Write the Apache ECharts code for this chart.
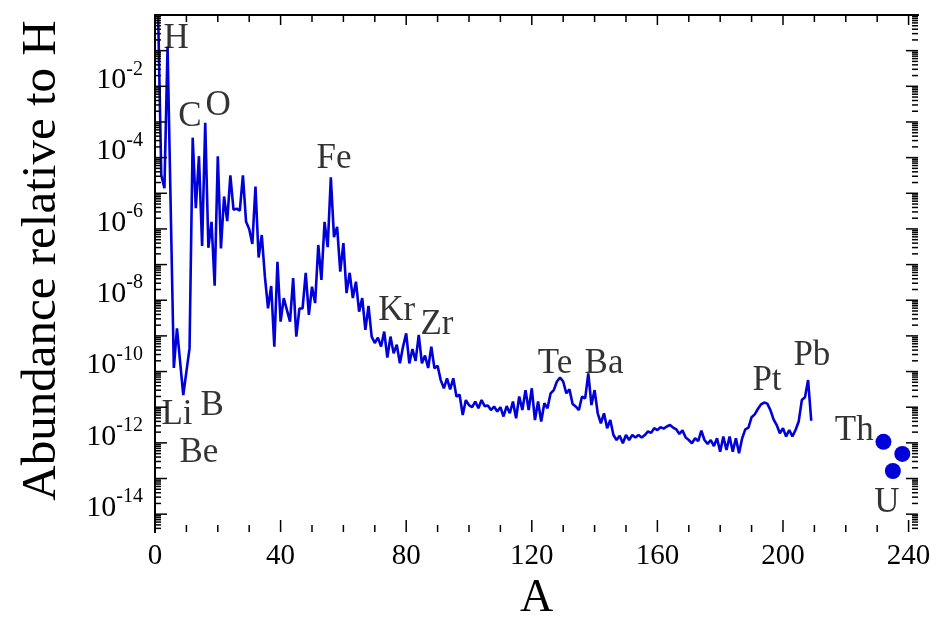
<!DOCTYPE html>
<html><head><meta charset="utf-8">
<script src="https://cdn.jsdelivr.net/npm/echarts@6/dist/echarts.min.js"></script>
<style>html,body{margin:0;padding:0;background:#fff}#c{width:950px;height:617px}</style>
</head><body><div id="c"></div>
<script>
// Mass numbers A (no stable A=5, A=8)
const massNumbers = [1,2,3,4,6,7,9,10,11,12,13,14,15,16,17,18,19,20,21,22,23,24,25,26,27,28,29,30,
31,32,33,34,35,36,37,38,39,40,41,42,43,44,45,46,47,48,49,50,51,52,53,54,55,56,57,58,59,60,
61,62,63,64,65,66,67,68,69,70,71,72,73,74,75,76,77,78,79,80,81,82,83,84,85,86,87,88,89,90,
91,92,93,94,95,96,97,98,99,100,101,102,103,104,105,106,107,108,109,110,111,112,113,114,115,116,117,118,119,120,
121,122,123,124,125,126,127,128,129,130,131,132,133,134,135,136,137,138,139,140,141,142,143,144,145,146,147,148,149,150,
151,152,153,154,155,156,157,158,159,160,161,162,163,164,165,166,167,168,169,170,171,172,173,174,175,176,177,178,179,180,
181,182,183,184,185,186,187,188,189,190,191,192,193,194,195,196,197,198,199,200,201,202,203,204,205,206,207,208,209];
// log10(abundance relative to H)
const logAbundance = [0,-4.49,-4.86,-0.89,-9.9,-8.79,-10.66,-10.0,-9.35,-3.44,-5.42,-3.96,-6.48,-3.02,-6.53,-5.8,-7.59,-3.96,-6.55,-5.09,
-5.78,-4.5,-5.46,-5.43,-5.49,-4.5,-5.8,-6.0,-6.42,-4.81,-6.8,-6.17,-7.34,-8.23,-7.6,-9.3,-6.92,-8.6,-7.94,-8.27,
-8.6,-7.38,-9.02,-8.23,-8.23,-7.23,-8.41,-7.62,-8.08,-6.45,-7.43,-5.8,-6.51,-4.55,-6.23,-5.94,-7.2,-6.4,-7.8,-7.23,
-7.94,-7.48,-8.32,-7.94,-8.83,-8.16,-9.02,-9.2,-9.05,-9.3,-8.88,-9.61,-9.02,-9.49,-9.25,-9.77,-9.3,-8.93,-9.77,-9.37,
-9.7,-8.97,-9.77,-9.55,-9.9,-9.3,-9.91,-9.84,-10.24,-10.47,-10.19,-10.5,-10.19,-10.7,-10.65,-11.22,-10.8,-10.94,-11.0,-10.84,
-11.03,-10.8,-10.97,-10.95,-11.08,-10.98,-11.12,-11.0,-11.26,-10.97,-11.17,-10.84,-11.31,-10.7,-11.08,-10.52,-11.08,-10.47,-11.36,-10.84,
-11.4,-10.89,-11.03,-10.61,-10.52,-10.28,-10.17,-10.28,-10.61,-10.5,-10.91,-10.98,-11.08,-10.7,-10.75,-10.05,-10.94,-10.52,-11.17,-11.45,
-11.17,-11.59,-11.36,-11.78,-11.92,-11.8,-12.01,-11.78,-11.92,-11.78,-11.85,-11.78,-11.85,-11.78,-11.68,-11.72,-11.59,-11.64,-11.56,-11.6,
-11.54,-11.5,-11.57,-11.62,-11.75,-11.65,-11.85,-11.92,-12.01,-11.87,-11.95,-11.66,-11.92,-12.03,-11.92,-12.09,-11.87,-12.25,-11.82,-12.2,
-11.82,-12.25,-11.87,-12.29,-11.87,-11.62,-11.57,-11.28,-11.2,-11.05,-10.92,-10.87,-10.9,-11.08,-11.34,-11.5,-11.73,-11.59,-11.82,-11.64,
-11.82,-11.64,-11.4,-10.8,-10.72,-10.24,-11.38];
// Th and U isotopes (dots)
const actinideA = [232, 235, 238];
const actinideLog = [-11.97, -12.79, -12.31];
// Element annotations
const elemNames = ['H','C','O','Fe','Kr','Zr','Te','Ba','Pt','Pb','Th','U','Li','B','Be'];
const elemA =     [6.7, 11.1, 20.1, 57.0, 77.0, 89.8, 127.4, 143.0, 194.9, 209.2, 222.7, 233.1, 7.0, 18.2, 14.0];
const elemLog =   [-0.66, -2.86, -2.55, -4.02, -8.3, -8.7, -9.77, -9.77, -10.25, -9.57, -11.66, -13.68, -11.2, -10.95, -12.28];
// Axis ranges / ticks
const xMin = 0, xMax = 243, xStep = 40, xMinorStep = 10;
const yMin = -14.5, yMax = 0;

const FONT = "'Liberation Serif','Times New Roman',serif";
const BLUE = '#0000d8';

const lineData = massNumbers.map((a, i) => [a, logAbundance[i]]);
const dotData = actinideA.map((a, i) => [a, actinideLog[i]]);
const labelData = elemNames.map((n, i) => ({ name: n, value: [elemA[i], elemLog[i]] }));

// tick positions (axis decoration)
const xTicks = [];
for (let a = xMin; a <= 240; a += xMinorStep) xTicks.push([a, a % xStep === 0 ? 1 : 0]);
const yTicks = [];
for (let n = -15; n < 0; n++) {
  for (let k = 1; k <= 9; k++) {
    const v = n + Math.log10(k);
    if (v > yMin && v < yMax) yTicks.push([xMin, v, k === 1 ? 1 : 0]);
  }
}

const chart = echarts.init(document.getElementById('c'), null, { renderer: 'canvas' });
const axisLineStyle = { color: '#000', width: 2 };
const TK = { stroke: '#000', lineWidth: 1.5 };
chart.setOption({
  animation: false,
  backgroundColor: '#fff',
  grid: { left: 155, right: 32, top: 15, bottom: 85, containLabel: false, outerBoundsMode: 'none' },
  xAxis: [{
    type: 'value', min: xMin, max: xMax, interval: xStep, position: 'bottom',
    name: 'A', nameLocation: 'middle', nameGap: 44,
    nameTextStyle: { fontFamily: FONT, fontSize: 46, color: '#000' },
    axisLine: { lineStyle: axisLineStyle },
    axisTick: { show: false }, minorTick: { show: false },
    splitLine: { show: false },
    axisLabel: { fontFamily: FONT, fontSize: 29, color: '#000', margin: 10, showMaxLabel: false }
  }, {
    type: 'value', min: xMin, max: xMax, interval: xStep, position: 'top',
    axisLine: { lineStyle: axisLineStyle },
    axisTick: { show: false }, minorTick: { show: false },
    splitLine: { show: false },
    axisLabel: { show: false }
  }],
  yAxis: [{
    type: 'value', min: yMin, max: yMax, splitNumber: 14, position: 'left',
    name: 'Abundance relative to H', nameLocation: 'middle', nameGap: 88,
    nameTextStyle: { fontFamily: FONT, fontSize: 49, color: '#000', padding: [0, 0, 0, 26] },
    axisLine: { lineStyle: axisLineStyle },
    axisTick: { show: false }, minorTick: { show: false },
    splitLine: { show: false },
    axisLabel: {
      margin: 12, color: '#000', showMinLabel: false, showMaxLabel: false,
      formatter: function (v) {
        const r = Math.round(v);
        if (Math.abs(v - r) > 1e-6 || r % 2 !== 0 || r >= 0) return '';
        return '{b|10}{s|' + r + '}';
      },
      rich: {
        b: { fontFamily: FONT, fontSize: 30, lineHeight: 30, padding: [0, 0, 12, 0] },
        s: { fontFamily: FONT, fontSize: 20, lineHeight: 20, padding: [0, 0, 34, 0] }
      }
    }
  }, {
    type: 'value', min: yMin, max: yMax, splitNumber: 14, position: 'right',
    axisLine: { lineStyle: axisLineStyle },
    axisTick: { show: false }, minorTick: { show: false },
    splitLine: { show: false },
    axisLabel: { show: false }
  }],
  series: [{
    type: 'custom', silent: true, clip: false, z: 5,
    xAxisIndex: 0, yAxisIndex: 0,
    encode: { x: 0, y: 1 },
    data: yTicks,
    renderItem: function (params, api) {
      const p = api.coord([xMin, api.value(1)]);
      const cs = params.coordSys;
      const len = api.value(2) ? 12 : 6;
      return {
        type: 'group', children: [
          { type: 'line', shape: { x1: cs.x, y1: p[1], x2: cs.x + len, y2: p[1] }, style: TK },
          { type: 'line', shape: { x1: cs.x + cs.width, y1: p[1], x2: cs.x + cs.width - len, y2: p[1] }, style: TK }
        ]
      };
    }
  }, {
    type: 'custom', silent: true, clip: false, z: 5,
    xAxisIndex: 0, yAxisIndex: 0,
    encode: { x: 0 },
    data: xTicks,
    renderItem: function (params, api) {
      const p = api.coord([api.value(0), yMin]);
      const cs = params.coordSys;
      const major = api.value(1);
      const lb = major ? 12 : 7, lt = major ? 10 : 7;
      return {
        type: 'group', children: [
          { type: 'line', shape: { x1: p[0], y1: cs.y + cs.height, x2: p[0], y2: cs.y + cs.height - lb }, style: TK },
          { type: 'line', shape: { x1: p[0], y1: cs.y, x2: p[0], y2: cs.y + lt }, style: TK }
        ]
      };
    }
  }, {
    type: 'line', data: lineData, symbol: 'none', z: 3,
    lineStyle: { color: BLUE, width: 2.6 }, itemStyle: { color: BLUE }
  }, {
    type: 'scatter', data: dotData, symbol: 'circle', symbolSize: 16, z: 3,
    itemStyle: { color: BLUE, opacity: 1 }
  }, {
    type: 'scatter', data: labelData, symbolSize: 1, z: 6, silent: true,
    itemStyle: { color: 'rgba(0,0,0,0)' },
    label: {
      show: true, position: 'inside', formatter: '{b}',
      fontFamily: FONT, fontSize: 35, color: '#000'
    }
  }]
});
</script>
</body></html>
